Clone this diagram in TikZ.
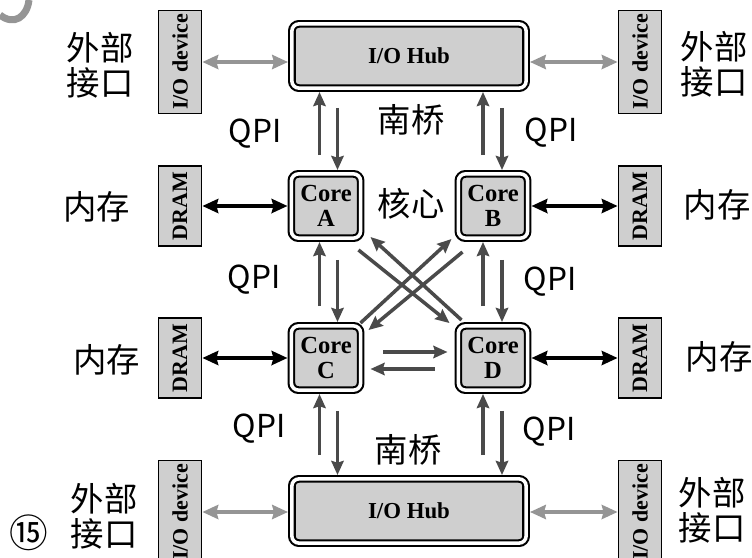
\documentclass[tikz,border=0pt]{standalone}
\usepackage{fontspec}
\setmainfont{Liberation Serif}
\newfontfamily\cjk{Noto Sans CJK SC}
\usepackage{tikz}
\usetikzlibrary{arrows.meta}
\definecolor{boxgray}{HTML}{CFCFCF}
\definecolor{linkgray}{HTML}{4A4A4A}
\definecolor{iogray}{HTML}{959595}
\tikzset{
  hub/.style={draw, line width=1.2pt, double=white, double distance=2pt, fill=boxgray,
    rounded corners=4pt, outer sep=2.2pt, align=center, font=\fontsize{13}{14}\selectfont\bfseries},
  core/.style={hub, minimum width=1.385cm, minimum height=1.285cm, inner sep=1pt,
    font=\fontsize{14}{14.5}\selectfont\bfseries},
  iohub/.style={hub, minimum width=4.685cm, minimum height=1.285cm},
  dev/.style={draw, line width=1pt, fill=boxgray, rotate=90, minimum height=0.86cm,
    inner sep=2pt, font=\fontsize{12.5}{12.5}\selectfont\bfseries},
  lab/.style={align=center, font=\cjk\fontsize{19}{20}\selectfont},
  qpilab/.style={font=\cjk\fontsize{18}{18}\selectfont},
  qpi/.style={-{Stealth[length=8pt,width=7pt,inset=1pt]}, line width=2pt, draw=linkgray},
  mem/.style={{Stealth[length=9pt,width=8pt,inset=1pt]}-{Stealth[length=9pt,width=8pt,inset=1pt]}, line width=2.2pt},
  io/.style={mem, draw=iogray, line width=2pt}
}

\begin{document}
\begin{tikzpicture}[x=0.02cm, y=-0.02cm]
\useasboundingbox (0,0) rectangle (752,558);
% cut off mark
\draw[iogray, line width=4pt] (0,15) .. controls (14,26) and (27,17) .. (29,0);

% hubs and cores
\node[iohub] (hubT) at (409,56) {I/O Hub};
\node[iohub] (hubB) at (409,511) {I/O Hub};
\node[core] (coreA) at (326,206) {Core\\A};
\node[core] (coreB) at (493,206) {Core\\B};
\node[core] (coreC) at (326,358) {Core\\C};
\node[core] (coreD) at (493,358) {Core\\D};

% devices and memory
\node[dev, minimum width=2cm] (ioTL) at (180,62) {I/O device};
\node[dev, minimum width=2cm] (ioTR) at (640,62) {I/O device};
\node[dev, minimum width=2cm] (ioBL) at (180,512) {I/O device};
\node[dev, minimum width=2cm] (ioBR) at (640,512) {I/O device};
\node[dev, minimum width=1.6cm] (memA) at (180,206) {DRAM};
\node[dev, minimum width=1.6cm] (memB) at (640,206) {DRAM};
\node[dev, minimum width=1.6cm] (memC) at (180,358) {DRAM};
\node[dev, minimum width=1.6cm] (memD) at (640,358) {DRAM};

% labels
\node[lab] (extTL) at (100,65) {外部\\接口};
\node[lab] (extTR) at (714,64) {外部\\接口};
\node[lab] (extBL) at (104,516) {外部\\接口};
\node[lab] (extBR) at (712,510) {外部\\接口};
\node[lab] (ramA) at (97,207) {内存};
\node[lab] (ramC) at (107,360) {内存};
\node[lab] (ramB) at (717,205) {内存};
\node[lab] (ramD) at (719,357) {内存};
\node[lab] (sbT) at (411,120) {南桥};
\node[lab] (sbB) at (408,450) {南桥};
\node[lab] (cores) at (411,204) {核心};
\node[qpilab] (qTL) at (255,134) {QPI};
\node[qpilab] (qTR) at (551,133) {QPI};
\node[qpilab] (qML) at (254,280) {QPI};
\node[qpilab] (qMR) at (550,282) {QPI};
\node[qpilab] (qBL) at (259,429) {QPI};
\node[qpilab] (qBR) at (549,432) {QPI};
\node[font=\cjk\fontsize{22}{22}\selectfont] (num) at (29,533) {⑮};

% hub links
\draw[qpi] ([xshift=-0.13cm,yshift=0.3cm]coreA.north) -- ([xshift=-0.13cm]coreA.north |- hubT.south);
\draw[qpi] ([xshift=0.23cm,yshift=-0.32cm]coreA.north |- hubT.south) -- ([xshift=0.23cm]coreA.north);
\draw[qpi] ([xshift=-0.2cm,yshift=0.3cm]coreB.north) -- ([xshift=-0.2cm]coreB.north |- hubT.south);
\draw[qpi] ([xshift=0.18cm,yshift=-0.32cm]coreB.north |- hubT.south) -- ([xshift=0.18cm]coreB.north);
\draw[qpi] ([xshift=-0.13cm,yshift=0.4cm]coreC.south |- hubB.north) -- ([xshift=-0.13cm]coreC.south);
\draw[qpi] ([xshift=0.23cm,yshift=-0.34cm]coreC.south) -- ([xshift=0.23cm]coreC.south |- hubB.north);
\draw[qpi] ([xshift=-0.2cm,yshift=0.4cm]coreD.south |- hubB.north) -- ([xshift=-0.2cm]coreD.south);
\draw[qpi] ([xshift=0.18cm,yshift=-0.34cm]coreD.south) -- ([xshift=0.18cm]coreD.south |- hubB.north);

% core links
\draw[qpi] ([xshift=-0.13cm,yshift=0.32cm]coreC.north) -- ([xshift=-0.13cm]coreA.south);
\draw[qpi] ([xshift=0.23cm,yshift=-0.36cm]coreA.south) -- ([xshift=0.23cm]coreC.north);
\draw[qpi] ([xshift=-0.2cm,yshift=0.32cm]coreD.north) -- ([xshift=-0.2cm]coreB.south);
\draw[qpi] ([xshift=0.18cm,yshift=-0.36cm]coreB.south) -- ([xshift=0.18cm]coreD.north);
\draw[qpi] ([xshift=-0.12cm,yshift=-0.16cm]coreA.south east) -- ([xshift=-0.1cm,yshift=-0.02cm]coreD.north west);
\draw[qpi] ([xshift=0.14cm,yshift=0.04cm]coreD.north west) -- ([xshift=0.12cm,yshift=0.1cm]coreA.south east);
\draw[qpi] ([xshift=-0.08cm,yshift=-0.02cm]coreC.north east) -- ([xshift=-0.06cm,yshift=0.06cm]coreB.south west);
\draw[qpi] ([xshift=0.16cm,yshift=-0.2cm]coreB.south west) -- ([xshift=0.08cm,yshift=-0.16cm]coreC.north east);
\draw[qpi] ([xshift=0.38cm,yshift=0.12cm]coreC.east) -- ([xshift=-0.14cm,yshift=0.12cm]coreD.west);
\draw[qpi] ([xshift=-0.4cm,yshift=-0.22cm]coreD.west) -- ([xshift=0.12cm,yshift=-0.22cm]coreC.east);

% memory and device links
\draw[mem] (memA.south) -- (coreA.west);
\draw[mem] (memC.south) -- (coreC.west);
\draw[mem] (coreB.east) -- (memB.north);
\draw[mem] (coreD.east) -- (memD.north);
\draw[io] (ioTL.south) -- (ioTL.south -| hubT.west);
\draw[io] (ioTR.north -| hubT.east) -- (ioTR.north);
\draw[io] (ioBL.south) -- (ioBL.south -| hubB.west);
\draw[io] (ioBR.north -| hubB.east) -- (ioBR.north);
\end{tikzpicture}
\end{document}
